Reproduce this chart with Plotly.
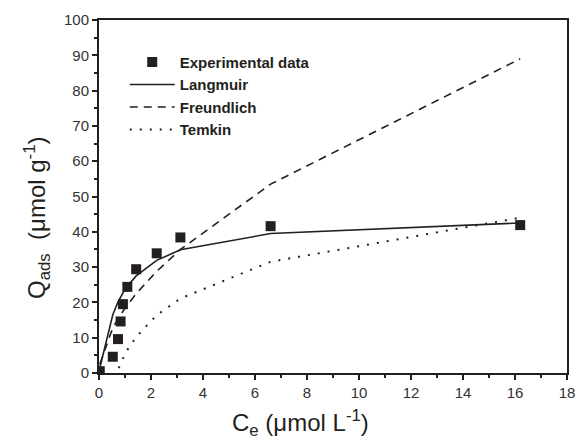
import plotly.graph_objects as go

Ce = [0.03, 0.53, 0.73, 0.83, 0.92, 1.09, 1.43, 2.22, 3.13, 6.6, 16.2]
Q_exp = [0.5, 4.6, 9.6, 14.6, 19.5, 24.4, 29.4, 33.9, 38.4, 41.6, 41.9]
Q_langmuir = [1.4, 16.5, 20.1, 21.6, 22.7, 24.6, 27.5, 31.9, 34.9, 39.5, 42.5]
Q_freundlich = [2.5, 12.8, 15.3, 16.5, 17.5, 19.2, 22.5, 28.8, 35.0, 53.5, 89.0]
Q_temkin = [-43.5, -3.6, 0.9, 2.7, 4.1, 6.5, 10.2, 16.4, 21.1, 31.5, 44.0]
series_names = ["Experimental data", "Langmuir", "Freundlich", "Temkin"]

ink = "#231f20"
FONT = "Liberation Sans, Arial, sans-serif"
fig = go.Figure()
fig.add_trace(go.Scatter(x=Ce, y=Q_exp, mode="markers", name="<b>%s</b>" % series_names[0],
                         marker=dict(symbol="square", size=10, color=ink)))
fig.add_trace(go.Scatter(x=Ce, y=Q_langmuir, mode="lines", name="<b>%s</b>" % series_names[1],
                         line=dict(color=ink, width=1.6)))
fig.add_trace(go.Scatter(x=Ce, y=Q_freundlich, mode="lines", name="<b>%s</b>" % series_names[2],
                         line=dict(color=ink, width=1.6, dash="8px,6px")))
fig.add_trace(go.Scatter(x=Ce, y=Q_temkin, mode="lines", name="<b>%s</b>" % series_names[3],
                         line=dict(color=ink, width=2, dash="2px,8px")))

axis_common = dict(showgrid=False, zeroline=False, showline=True, linecolor=ink,
                   linewidth=2, mirror=True, ticks="outside", tickwidth=2,
                   ticklen=5, tickcolor=ink,
                   tickfont=dict(family=FONT, size=15, color="#333"))
fig.update_xaxes(range=[0, 18], dtick=2, tick0=0,
                 minor=dict(dtick=1, ticks="outside", ticklen=3, tickwidth=2, tickcolor=ink),
                 **axis_common)
fig.update_yaxes(range=[0, 100], dtick=10, tick0=0,
                 minor=dict(dtick=5, ticks="outside", ticklen=3, tickwidth=2, tickcolor=ink),
                 **axis_common)

fig.add_annotation(text="C<sub>e</sub> (μmol L<sup>-1</sup>)", xref="paper", yref="paper",
                   x=0.43, y=-0.142, xanchor="center", yanchor="middle", showarrow=False,
                   font=dict(family=FONT, size=24, color=ink))
fig.add_annotation(text="Q<sub>ads</sub>  (μmol g<sup>-1</sup>)", xref="paper", yref="paper",
                   x=-0.134, y=0.44, xanchor="center", yanchor="middle", showarrow=False,
                   textangle=-90,
                   font=dict(family=FONT, size=24, color=ink))

fig.update_layout(
    width=584, height=440,
    margin=dict(l=99, r=9, t=20, b=67),
    paper_bgcolor="white", plot_bgcolor="white",
    showlegend=True,
    legend=dict(x=0.055, y=0.927, xanchor="left", yanchor="top", itemwidth=45,
                bgcolor="rgba(0,0,0,0)", tracegroupgap=0,
                font=dict(family=FONT, size=15, color=ink)),
    font=dict(family=FONT),
)

fig.write_html("out.html")
